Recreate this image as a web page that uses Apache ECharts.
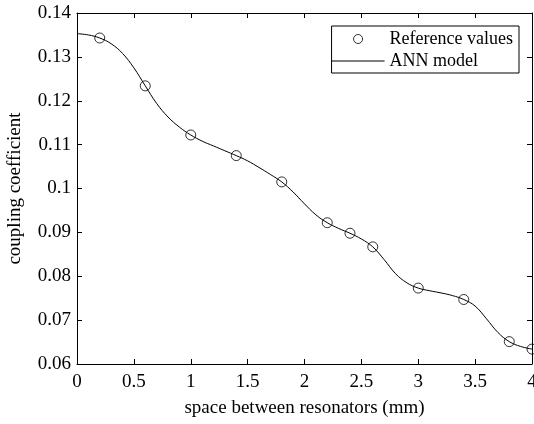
<!DOCTYPE html>
<html>
<head>
<meta charset="utf-8">
<script src="https://cdn.jsdelivr.net/npm/echarts@6/dist/echarts.min.js"></script>
<style>
  html, body { margin: 0; padding: 0; background: #fff; }
  #chart { width: 534px; height: 424px; }
</style>
</head>
<body>
<div id="chart"></div>
<script>
// reference values (circles)
const refX = [0.2, 0.6, 1.0, 1.4, 1.8, 2.2, 2.4, 2.6, 3.0, 3.4, 3.8, 4.0]
const refY = [0.1343, 0.1234, 0.1122, 0.1075, 0.1015, 0.0922, 0.0898, 0.0867, 0.0773, 0.0747, 0.0651, 0.0634]

// ANN model curve
const annX = [0.0, 0.1, 0.2, 0.3, 0.4, 0.5, 0.6, 0.7, 0.8, 0.9, 1.0, 1.1, 1.2, 1.3, 1.4, 1.5, 1.6, 1.7, 1.8, 1.9, 2.0,
              2.1, 2.2, 2.3, 2.4, 2.5, 2.6, 2.7, 2.8, 2.9, 3.0, 3.1, 3.2, 3.3, 3.4, 3.5, 3.6, 3.7, 3.8, 3.9, 4.0]
const annY = [0.1353, 0.1350, 0.1343, 0.1330, 0.1308, 0.1275, 0.1234, 0.1194, 0.1163, 0.1140, 0.1122, 0.1108, 0.1097,
              0.1086, 0.1075, 0.1063, 0.1048, 0.1032, 0.1015, 0.0992, 0.0965, 0.0940, 0.0922, 0.0909, 0.0898, 0.0885,
              0.0867, 0.0838, 0.0806, 0.0785, 0.0773, 0.0767, 0.0762, 0.0756, 0.0747, 0.0732, 0.0703, 0.0672, 0.0651,
              0.0640, 0.0634]

const xTicks = [0, 0.5, 1, 1.5, 2, 2.5, 3, 3.5, 4]
const yTicks = [0.06, 0.07, 0.08, 0.09, 0.1, 0.11, 0.12, 0.13, 0.14]

const font = 'Liberation Serif'
const fs = 19
const chart = echarts.init(document.getElementById('chart'))

const axisCommon = {
    axisLine: { show: true, onZero: false, lineStyle: { color: '#000', width: 1 } },
    axisTick: { show: true, inside: true, length: 5, lineStyle: { color: '#000' } },
    splitLine: { show: false }
}

let option = {
    animation: false,
    backgroundColor: '#fff',
    textStyle: { fontFamily: font },
    grid: { left: 77, right: 2, top: 13, bottom: 60, containLabel: false, outerBoundsMode: 'none' },
    legend: {
        right: 15,
        top: 26,
        orient: 'vertical',
        itemWidth: 53,
        itemHeight: 9,
        itemGap: 4,
        padding: [4, 6, 3, 0],
        borderColor: '#000',
        borderWidth: 1,
        backgroundColor: '#fff',
        textStyle: { fontFamily: font, fontSize: 18, color: '#000' },
        data: [
            { name: 'Reference values', icon: 'circle', itemStyle: { color: 'transparent', borderColor: '#000', borderWidth: 1 } },
            { name: 'ANN model', icon: 'path://M0,0 L100,0 L100,2 L0,2 Z', itemStyle: { color: '#000', borderWidth: 0 } }
        ]
    },
    xAxis: [
        Object.assign({}, axisCommon, {
            type: 'value',
            min: xTicks[0],
            max: xTicks[xTicks.length - 1],
            interval: 0.5,
            position: 'bottom',
            name: 'space between resonators (mm)',
            nameLocation: 'middle',
            nameGap: 35,
            nameTextStyle: { fontFamily: font, fontSize: fs, color: '#000' },
            axisLabel: { fontFamily: font, fontSize: fs, color: '#000', margin: 9 }
        }),
        Object.assign({}, axisCommon, {
            type: 'value',
            min: xTicks[0],
            max: xTicks[xTicks.length - 1],
            interval: 0.5,
            position: 'top',
            axisLabel: { show: false }
        })
    ],
    yAxis: [
        Object.assign({}, axisCommon, {
            type: 'value',
            min: yTicks[0],
            max: yTicks[yTicks.length - 1],
            interval: 0.01,
            position: 'left',
            name: 'coupling coefficient',
            nameLocation: 'middle',
            nameGap: 52,
            nameTextStyle: { fontFamily: font, fontSize: fs, color: '#000' },
            axisLabel: {
                fontFamily: font, fontSize: fs, color: '#000', margin: 6,
                formatter: v => String(parseFloat(v.toFixed(4)))
            }
        }),
        Object.assign({}, axisCommon, {
            type: 'value',
            min: yTicks[0],
            max: yTicks[yTicks.length - 1],
            interval: 0.01,
            position: 'right',
            axisLabel: { show: false }
        })
    ],
    series: [
        {
            name: 'Reference values',
            type: 'scatter',
            symbol: 'circle',
            symbolSize: 10,
            itemStyle: { color: 'transparent', borderColor: '#000', borderWidth: 1 },
            data: refX.map((x, i) => [x, refY[i]]),
            z: 3
        },
        {
            name: 'ANN model',
            type: 'line',
            smooth: 0.4,
            showSymbol: false,
            symbol: 'none',
            lineStyle: { color: '#000', width: 1 },
            itemStyle: { color: '#000' },
            data: annX.map((x, i) => [x, annY[i]]),
            z: 2
        }
    ]
}

chart.setOption(option)
</script>
</body>
</html>
